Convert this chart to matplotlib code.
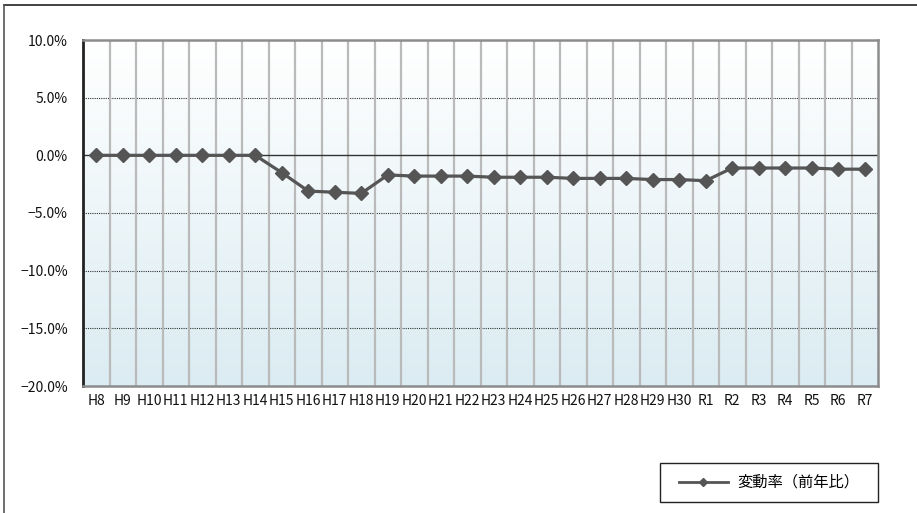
import numpy as np
import matplotlib.pyplot as plt
from matplotlib.lines import Line2D
from matplotlib.patches import Rectangle
from matplotlib.colors import LinearSegmentedColormap
from matplotlib.ticker import FuncFormatter

plt.rcParams['font.family'] = ['Noto Sans CJK JP', 'DejaVu Sans']

years = ["H8", "H9", "H10", "H11", "H12", "H13", "H14", "H15", "H16", "H17",
         "H18", "H19", "H20", "H21", "H22", "H23", "H24", "H25", "H26", "H27",
         "H28", "H29", "H30", "R1", "R2", "R3", "R4", "R5", "R6", "R7"]
rate = [0.0, 0.0, 0.0, 0.0, 0.0, 0.0, 0.0, -1.5, -3.1, -3.2,
        -3.3, -1.7, -1.8, -1.8, -1.8, -1.9, -1.9, -1.9, -2.0, -2.0,
        -2.0, -2.1, -2.1, -2.2, -1.1, -1.1, -1.1, -1.1, -1.2, -1.2]
series_name = "変動率（前年比）"

fig = plt.figure(figsize=(9.17, 5.13), dpi=100)
ax = fig.add_axes([83 / 917, 1 - 386 / 513, 795 / 917, 346 / 513])

x = np.arange(len(years))
ax.set_xlim(-0.5, len(years) - 0.5)
ax.set_ylim(-20, 10)

# background gradient, white at top to pale blue at bottom
cmap = LinearSegmentedColormap.from_list("bg", ["#dbecf2", "#ffffff"])
grad = np.linspace(0, 1, 256).reshape(-1, 1)
ax.imshow(grad, aspect="auto", cmap=cmap, origin="lower",
          extent=(-0.5, len(years) - 0.5, -20, 10), zorder=0)

# vertical separators between categories
ax.set_xticks(x[:-1] + 0.5, minor=True)
ax.grid(True, which="minor", axis="x", color="#bababa", lw=1.6, zorder=1)
ax.tick_params(axis="x", which="minor", length=0)

# horizontal gridlines
for v in [5, -5, -10, -15]:
    ax.axhline(v, color="#333333", lw=0.8, ls=(0, (1, 1)), zorder=1)
ax.axhline(0, color="#333333", lw=1.0, zorder=2)

ax.plot(x, rate, color="#555555", lw=2.3, marker="D", markersize=7,
        label=series_name, zorder=3)

ax.set_xticks(x)
ax.set_xticklabels(years, fontsize=10, color="#111111")
ax.set_yticks([10, 5, 0, -5, -10, -15, -20])
ax.yaxis.set_major_formatter(FuncFormatter(lambda v, p: f"{v:.1f}%".replace("-", "\u2212")))
ax.tick_params(axis="y", labelsize=10, length=0, pad=11, colors="#111111")
ax.tick_params(axis="x", length=0, pad=6)

for side in ["top", "right", "bottom"]:
    ax.spines[side].set_color("#8c8c8c")
    ax.spines[side].set_linewidth(1.8)
ax.spines["left"].set_color("#222222")
ax.spines["left"].set_linewidth(2.0)

# legend: fixed box, contents centred in it
box = (660 / 917, 1 - 502 / 513, 218 / 917, 39 / 513)
fig.add_artist(Rectangle(box[:2], box[2], box[3], transform=fig.transFigure,
                         facecolor="white", edgecolor="#222222", lw=1.0))
handle = Line2D([], [], color="#555555", lw=2.0, marker="D", markersize=4)
fig.legend([handle], [series_name], loc="center",
           bbox_to_anchor=(box[0] + box[2] / 2, box[1] + box[3] / 2),
           fontsize=11, frameon=False, handlelength=3.2, handletextpad=0.6)

# outer frame (top and left edges of the original chart box)
fig.add_artist(Line2D([4 / 917, 1], [1 - 5 / 513, 1 - 5 / 513], color="#222222", lw=1.2))
fig.add_artist(Line2D([4 / 917, 4 / 917], [0, 1 - 5 / 513], color="#555555", lw=1.2))

fig.savefig("out.png", dpi=100)
